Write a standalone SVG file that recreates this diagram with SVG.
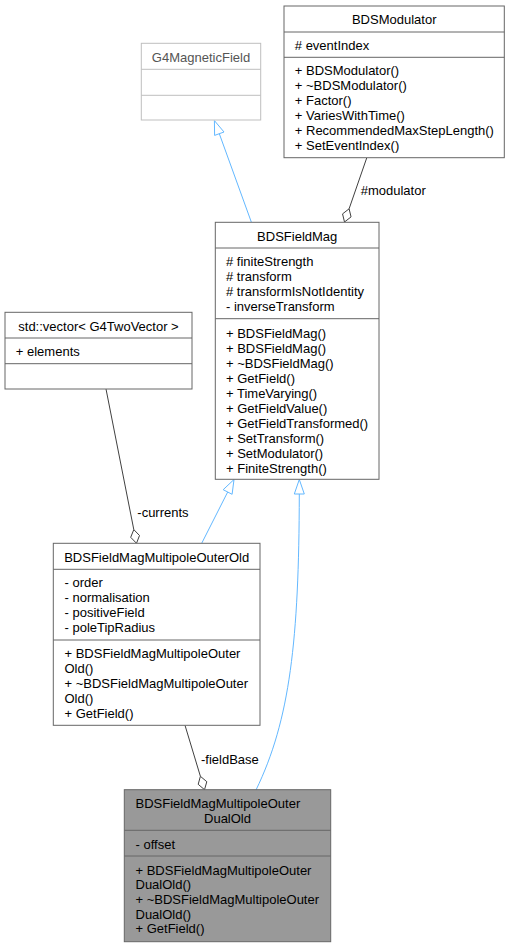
<svg xmlns="http://www.w3.org/2000/svg" width="510" height="948" viewBox="0 0 510 948">
<style>
text{font-family:"Liberation Sans",Arial,sans-serif;font-size:13px;fill:#000}
.box{fill:#fff;stroke:#666;stroke-width:1}
.sep{stroke:#666;stroke-width:1}
.gbox{fill:#fff;stroke:#bfbfbf;stroke-width:1}
.gsep{stroke:#bfbfbf;stroke-width:1}
.dbox{fill:#999;stroke:#666;stroke-width:1}
.c{text-anchor:middle}
.inh{fill:none;stroke:#63b8ff;stroke-width:1}
.inhh{fill:#fff;stroke:#63b8ff;stroke-width:1}
.use{fill:none;stroke:#404040;stroke-width:1}
.useh{fill:#fff;stroke:#404040;stroke-width:1}
</style>
<rect width="510" height="948" fill="#fff"/>
<g id="connectors">
<path class="inh" d="M219.3,133.7 L251.3,222"/>
<polygon class="inhh" points="214.4,120.6 224,132 214.6,135.4"/>
<path class="use" d="M366.7,158 L349.1,208.8"/>
<polygon class="useh" points="344.5,222 342.55,213.9 349.1,208.8 351.05,216.9"/>
<text x="360.7" y="195">#modulator</text>
<path class="inh" d="M201.7,543.3 L227.7,492"/>
<polygon class="inhh" points="234,479.5 232.1,494.3 223.2,489.7"/>
<path class="inh" d="M256,790 C290,720 299,640 299.3,494"/>
<polygon class="inhh" points="299.3,479.5 304.3,494 294.3,494"/>
<path class="use" d="M106,389 L133.8,529.6"/>
<polygon class="useh" points="136.5,543.3 130.7,537.3 133.8,529.6 139.5,535.5"/>
<text x="137.3" y="517">-currents</text>
<path class="use" d="M185,725.3 L200.4,776.3"/>
<polygon class="useh" points="204.5,789.7 198.2,784.3 200.4,776.3 206.8,781.7"/>
<text x="201" y="763.5">-fieldBase</text>
</g>
<g id="G4MagneticField">
<rect class="gbox" x="141.3" y="43.3" width="119.4" height="76.7"/>
<line class="gsep" x1="141.3" y1="69.3" x2="260.7" y2="69.3"/>
<line class="gsep" x1="141.3" y1="95.3" x2="260.7" y2="95.3"/>
<text class="c" x="201" y="62" style="fill:#555">G4MagneticField</text>
</g>
<g id="BDSModulator">
<rect class="box" x="284" y="6" width="220.3" height="151.7"/>
<line class="sep" x1="284" y1="32" x2="504.3" y2="32"/>
<line class="sep" x1="284" y1="57.3" x2="504.3" y2="57.3"/>
<text class="c" x="394.2" y="24">BDSModulator</text>
<text x="294.8" y="50"># eventIndex</text>
<text x="294.8" y="75">+ BDSModulator()</text>
<text x="294.8" y="90">+ ~BDSModulator()</text>
<text x="294.8" y="105">+ Factor()</text>
<text x="294.8" y="120">+ VariesWithTime()</text>
<text x="294.8" y="135">+ RecommendedMaxStepLength()</text>
<text x="294.8" y="150">+ SetEventIndex()</text>
</g>
<g id="BDSFieldMag">
<rect class="box" x="215.3" y="222.3" width="163.7" height="257"/>
<line class="sep" x1="215.3" y1="248" x2="379" y2="248"/>
<line class="sep" x1="215.3" y1="318.7" x2="379" y2="318.7"/>
<text class="c" x="297.2" y="240.5">BDSFieldMag</text>
<text x="226" y="265.5"># finiteStrength</text>
<text x="226" y="280.5"># transform</text>
<text x="226" y="295.5"># transformIsNotIdentity</text>
<text x="226" y="310.5">- inverseTransform</text>
<text x="226" y="337.5">+ BDSFieldMag()</text>
<text x="226" y="352.5">+ BDSFieldMag()</text>
<text x="226" y="367.5">+ ~BDSFieldMag()</text>
<text x="226" y="382.5">+ GetField()</text>
<text x="226" y="397.5">+ TimeVarying()</text>
<text x="226" y="412.5">+ GetFieldValue()</text>
<text x="226" y="427.5">+ GetFieldTransformed()</text>
<text x="226" y="442.5">+ SetTransform()</text>
<text x="226" y="457.5">+ SetModulator()</text>
<text x="226" y="472.5">+ FiniteStrength()</text>
</g>
<g id="stdvector">
<rect class="box" x="5" y="312.3" width="187" height="76.7"/>
<line class="sep" x1="5" y1="338" x2="192" y2="338"/>
<line class="sep" x1="5" y1="363.7" x2="192" y2="363.7"/>
<text class="c" x="98.5" y="330.5">std::vector&lt; G4TwoVector &gt;</text>
<text x="15.8" y="356">+ elements</text>
</g>
<g id="BDSFieldMagMultipoleOuterOld">
<rect class="box" x="53.3" y="543.3" width="206.7" height="182"/>
<line class="sep" x1="53.3" y1="569.3" x2="260" y2="569.3"/>
<line class="sep" x1="53.3" y1="640" x2="260" y2="640"/>
<text class="c" x="156.7" y="561.5">BDSFieldMagMultipoleOuterOld</text>
<text x="64.5" y="587">- order</text>
<text x="64.5" y="602">- normalisation</text>
<text x="64.5" y="617">- positiveField</text>
<text x="64.5" y="632">- poleTipRadius</text>
<text x="64.5" y="658">+ BDSFieldMagMultipoleOuter</text>
<text x="64.5" y="673">Old()</text>
<text x="64.5" y="688">+ ~BDSFieldMagMultipoleOuter</text>
<text x="64.5" y="703">Old()</text>
<text x="64.5" y="718">+ GetField()</text>
</g>
<g id="BDSFieldMagMultipoleOuterDualOld">
<rect class="dbox" x="124.3" y="789.7" width="206.4" height="152"/>
<line class="sep" x1="124.3" y1="830.3" x2="330.7" y2="830.3"/>
<line class="sep" x1="124.3" y1="856" x2="330.7" y2="856"/>
<text x="135.5" y="808">BDSFieldMagMultipoleOuter</text>
<text class="c" x="227.5" y="823">DualOld</text>
<text x="135.5" y="848.5">- offset</text>
<text x="135.5" y="874.5">+ BDSFieldMagMultipoleOuter</text>
<text x="135.5" y="889">DualOld()</text>
<text x="135.5" y="904">+ ~BDSFieldMagMultipoleOuter</text>
<text x="135.5" y="918.5">DualOld()</text>
<text x="135.5" y="933">+ GetField()</text>
</g>
</svg>
